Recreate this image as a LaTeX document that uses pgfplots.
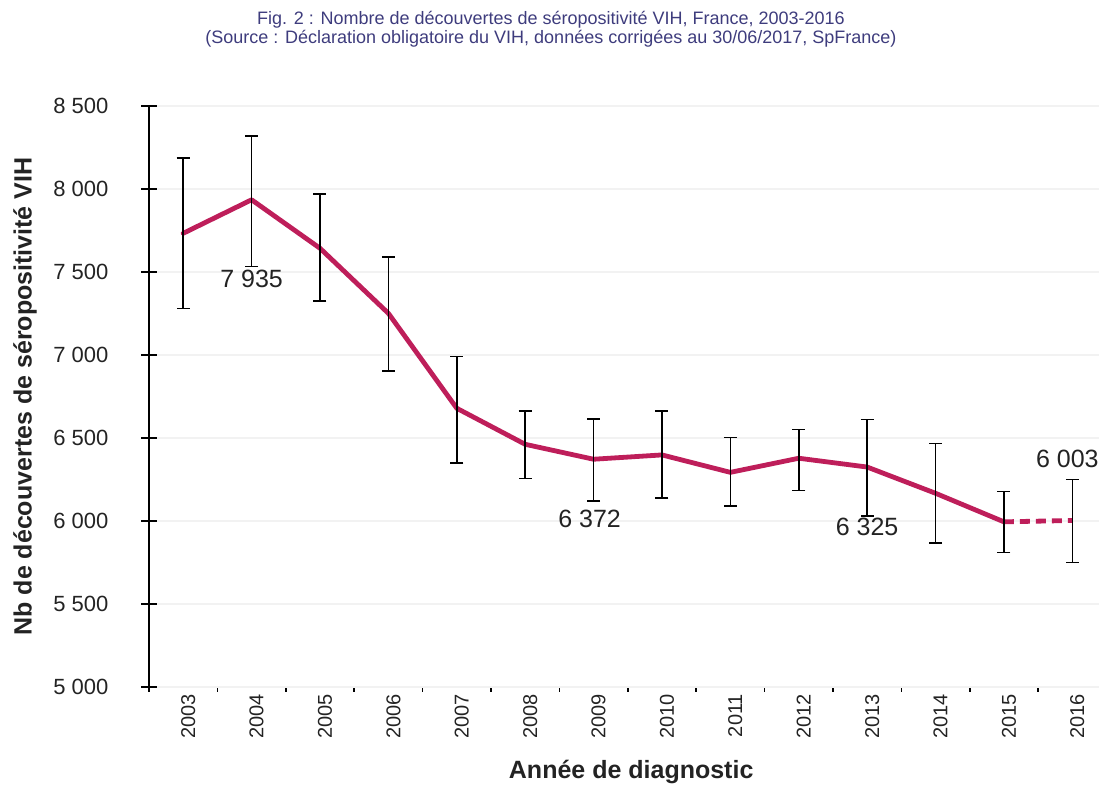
\documentclass[border=0pt]{standalone}
\usepackage{pgfplots}
\pgfplotsset{compat=1.18}
\usepackage{pgfplotstable}
\usepackage{fontspec}
\setmainfont{Liberation Sans}
\definecolor{vih}{RGB}{190,30,90}
\definecolor{titleblue}{RGB}{62,60,125}
\definecolor{lbl}{RGB}{35,35,35}

\pgfplotstableread{
x y ep em
0 7733 452 452
1 7935 384 403
2 7643 327 316
3 7251 341 346
4 6679 311 328
5 6462 201 205
6 6372 242 252
7 6398 265 261
8 6293 211 203
9 6378 174 195
10 6325 287 295
11 6167 301 298
12 5995 182 186
13 6003 248 254
}\datatable

\begin{document}
\begin{tikzpicture}
\begin{axis}[
  at={(74.5pt,49pt)}, anchor=south west,
  scale only axis, width=475pt, height=290.5pt,
  xmin=-0.5, xmax=13.39, ymin=5000, ymax=8500,
  axis x line*=bottom, axis y line*=left,
  axis line style={black, line width=0.8pt},
  xtick={-0.5,0.5,...,12.5},
  xticklabels={},
  xtick align=outside,
  major tick length=2.5pt,
  extra x ticks={0,1,...,13},
  extra x tick labels={2003,2004,2005,2006,2007,2008,2009,2010,2011,2012,2013,2014,2015,2016},
  extra x tick style={major tick length=0pt, tick style={draw=none},
    xticklabel style={rotate=90, anchor=east, font=\fontsize{10}{12}\selectfont, text=lbl, yshift=-2.5pt}},
  ytick={5000,5500,...,8500},
  yticklabels={5\ 000,5\ 500,6\ 000,6\ 500,7\ 000,7\ 500,8\ 000,8\ 500},
  ytick align=center,
  extra y ticks={5000,5500,...,8500},
  extra y tick labels={},
  extra y tick style={major tick length=7.5pt, ytick align=center},
  tick style={black, line width=0.8pt},
  ymajorgrids, major grid style={black!5, line width=0.6pt},
  /pgf/number format/assume math mode=true,
  yticklabel style={font=\fontsize{11}{13}\selectfont, xshift=-15.5pt, text=lbl},
  xlabel={Année de diagnostic},
  ylabel={Nb de découvertes de séropositivité VIH},
  every axis x label/.style={at={(axis cs:6.55,5000)}, yshift=-42.5pt, anchor=center, font=\fontsize{12.5}{15}\selectfont\bfseries, text=lbl},
  every axis y label/.style={at={(rel axis cs:0,0.5)}, xshift=-62pt, rotate=90, anchor=center, font=\fontsize{12.5}{15}\selectfont\bfseries, text=lbl},
  clip=false,
]
\addplot[vih, line width=2.4pt, line join=round, line cap=round, mark=none, skip coords between index={13}{14}] table[x=x, y=y] {\datatable};
\addplot[vih, line width=2.4pt, mark=none, dash pattern=on 5pt off 3pt, skip coords between index={0}{12}] table[x=x, y=y] {\datatable};
\addplot[draw=none, mark=none, forget plot,
  error bars/.cd, y dir=both, y explicit,
  error bar style={draw=black, line width=0.8pt, solid},
  error mark options={rotate=90, mark size=3.25pt, draw=black, line width=0.8pt, solid}]
  table[x=x, y=y, y error plus=ep, y error minus=em] {\datatable};
\node[font=\fontsize{12.5}{15}\selectfont, text=lbl] at (axis cs:1,7935) [yshift=-39.5pt] {7 935};
\node[font=\fontsize{12.5}{15}\selectfont, text=lbl] at (axis cs:6,6372) [yshift=-30pt, xshift=-2pt] {6 372};
\node[font=\fontsize{12.5}{15}\selectfont, text=lbl] at (axis cs:10,6325) [yshift=-30pt] {6 325};
\node[font=\fontsize{12.5}{15}\selectfont, text=lbl] at (axis cs:13,6003) [yshift=31pt, xshift=-2.5pt] {6 003};
\end{axis}
\node[anchor=north, align=center, font=\fontsize{9}{9.5}\selectfont, text=titleblue, inner sep=0pt] at (275.5pt,387pt) {Fig. 2 : Nombre de découvertes de séropositivité VIH, France, 2003-2016\\(Source : Déclaration obligatoire du VIH, données corrigées au 30/06/2017, SpFrance)};
\pgfresetboundingbox
\path (0,0) rectangle (549.5pt,392.5pt);
\end{tikzpicture}
\end{document}
